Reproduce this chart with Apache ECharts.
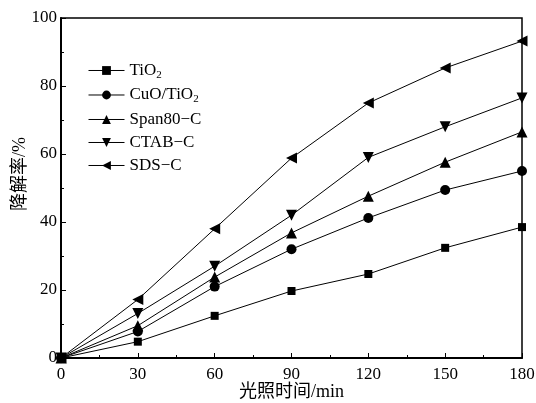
<!DOCTYPE html>
<html>
<head>
<meta charset="utf-8">
<script src="https://cdn.jsdelivr.net/npm/echarts@6/dist/echarts.min.js"></script>
<style>
html, body { margin: 0; padding: 0; background: #fff; }
#chart { width: 536px; height: 403px; }
</style>
</head>
<body>
<div id="chart"></div>
<script>
const times = [0, 30, 60, 90, 120, 150, 180];
const tio2 = [0, 4.8, 12.4, 19.7, 24.7, 32.4, 38.5];
const cuoTio2 = [0, 7.8, 21.0, 32.0, 41.2, 49.4, 55.0];
const span80 = [0, 9.5, 23.8, 36.8, 47.6, 57.6, 66.5];
const ctab = [0, 13.1, 27.0, 42.0, 59.0, 68.0, 76.5];
const sds = [0, 17.2, 38.0, 58.8, 75.0, 85.3, 93.2];

const seriesNames = ['TiO2', 'CuO/TiO2', 'Span80-C', 'CTAB-C', 'SDS-C'];
const seriesData = [tio2, cuoTio2, span80, ctab, sds];
const symbols = ['rect', 'circle', 'triangle', 'triangle', 'triangle'];
const symbolSizes = [8, 10, 11, 11, 11];
const rotates = [0, 0, 0, 180, 90];

const serif = '"Liberation Serif", "Noto Sans CJK SC", serif';

const chart = echarts.init(document.getElementById('chart'));
const option = {
    backgroundColor: '#fff',
    animation: false,
    grid: {
        left: 61,
        right: 14,
        top: 18,
        bottom: 45,
        outerBoundsMode: 'none',
        containLabel: false,
        show: true,
        borderColor: '#000',
        borderWidth: 1.5
    },
    legend: {
        orient: 'vertical',
        left: 83,
        top: 57,
        itemGap: 6,
        itemWidth: 36,
        itemHeight: 11,
        data: seriesNames,
        lineStyle: { width: 1, color: '#000' },
        formatter: function (name) {
            if (name === 'TiO2') return '{n|TiO}{s|2}';
            if (name === 'CuO/TiO2') return '{n|CuO/TiO}{s|2}';
            return '{n|' + name.replace('-', '\u2212') + '}';
        },
        textStyle: {
            fontFamily: serif,
            color: '#000',
            fontSize: 17,
            rich: {
                n: { fontFamily: serif, fontSize: 17, color: '#000' },
                s: { fontFamily: serif, fontSize: 11, color: '#000', padding: [9, 0, 0, 0] }
            }
        }
    },
    xAxis: {
        type: 'value',
        min: 0,
        max: 180,
        interval: 30,
        name: '光照时间/min',
        nameLocation: 'middle',
        nameGap: 25,
        nameMoveOverlap: false,
        nameTextStyle: { fontFamily: serif, fontSize: 18, color: '#000' },
        axisLine: { lineStyle: { color: '#000', width: 2 } },
        axisTick: { inside: true, length: 5, lineStyle: { color: '#000' } },
        minorTick: { show: true, splitNumber: 2, length: 3, lineStyle: { color: '#000' } },
        axisLabel: { fontFamily: serif, fontSize: 17, color: '#000', margin: 8 },
        splitLine: { show: false }
    },
    yAxis: {
        type: 'value',
        min: 0,
        max: 100,
        interval: 20,
        name: '降解率/%',
        nameLocation: 'middle',
        nameGap: 32,
        nameMoveOverlap: false,
        nameTextStyle: { fontFamily: serif, fontSize: 18, color: '#000', padding: [0, 0, 0, 28] },
        axisLine: { show: true, lineStyle: { color: '#000', width: 2 } },
        axisTick: { show: true, inside: true, length: 5, lineStyle: { color: '#000' } },
        minorTick: { show: true, splitNumber: 2, length: 3, lineStyle: { color: '#000' } },
        axisLabel: { fontFamily: serif, fontSize: 17, color: '#000', margin: 4 },
        splitLine: { show: false }
    },
    series: seriesNames.map(function (name, i) {
        return {
            name: name,
            type: 'line',
            data: times.map(function (t, j) { return [t, seriesData[i][j]]; }),
            symbol: symbols[i],
            symbolSize: symbolSizes[i],
            symbolRotate: rotates[i],
            showAllSymbol: true,
            color: '#000',
            lineStyle: { color: '#000', width: 1 },
            itemStyle: { color: '#000' }
        };
    })
};
chart.setOption(option);
</script>
</body>
</html>
